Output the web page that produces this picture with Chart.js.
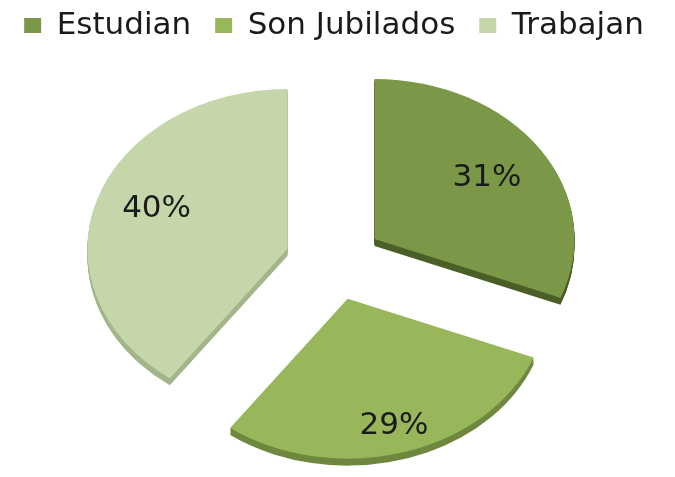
<!DOCTYPE html>
<html>
<head>
<meta charset="utf-8">
<script src="https://cdn.jsdelivr.net/npm/chart.js@4"></script>
<style>
  html, body { margin: 0; padding: 0; background: #fff; }
</style>
</head>
<body>
<canvas id="myChart" width="675" height="477"></canvas>
<script>
// data
const labels = ['Estudian', 'Son Jubilados', 'Trabajan'];
const values = [31, 29, 40];

const faceColors = ['#7a9848', '#98b75b', '#c4d6aa'];
const sideColors = ['#4b5f28', '#6e883f', '#a3b58a'];

// look of the fake 3d pie
const tilt = 0.8;      // vertical squash of the disc
const depth = 7;       // thickness of the slices
const explode = 49;    // how far each slice is pulled out
// where the % text sits: [part of the slice angle, part of the radius]
const labelSpots = [[0.5, 0.68], [0.5, 0.83], [0.52, 0.70]];

function wedge(ctx, arc) {
  ctx.beginPath();
  ctx.moveTo(arc.x, arc.y);
  ctx.arc(arc.x, arc.y, arc.outerRadius, arc.startAngle, arc.endAngle);
  ctx.closePath();
  ctx.fill();
}

const pie3d = {
  id: 'pie3d',
  beforeDatasetsDraw(chart) {
    const ctx = chart.ctx;
    const arcs = chart.getDatasetMeta(0).data;
    if (!arcs.length) return false;
    const cx = arcs[0].x, cy = arcs[0].y;
    arcs.forEach(function (arc, i) {
      const mid = (arc.startAngle + arc.endAngle) / 2;
      ctx.save();
      ctx.translate(cx, cy);
      ctx.scale(1, tilt);
      ctx.translate(-cx, -cy);
      ctx.translate(Math.cos(mid) * explode, Math.sin(mid) * explode);
      // side
      ctx.fillStyle = sideColors[i];
      for (let k = depth; k > 0; k--) {
        ctx.save();
        ctx.translate(0, k / tilt);
        wedge(ctx, arc);
        ctx.restore();
      }
      // top face
      arc.draw(ctx);
      ctx.restore();
    });
    return false;
  },
  afterDraw(chart) {
    const ctx = chart.ctx;
    const arcs = chart.getDatasetMeta(0).data;
    const total = values.reduce((a, b) => a + b, 0);
    ctx.save();
    ctx.font = '31px "DejaVu Sans"';
    ctx.fillStyle = '#1a1a1a';
    ctx.textAlign = 'center';
    ctx.textBaseline = 'middle';
    arcs.forEach(function (arc, i) {
      const mid = (arc.startAngle + arc.endAngle) / 2;
      const ang = arc.startAngle + labelSpots[i][0] * (arc.endAngle - arc.startAngle);
      const rr = arc.outerRadius * labelSpots[i][1];
      const x = arc.x + Math.cos(mid) * explode + Math.cos(ang) * rr;
      const y0 = Math.sin(mid) * explode + Math.sin(ang) * rr;
      const y = arc.y + y0 * tilt;
      ctx.fillText(Math.round(values[i] / total * 100) + '%', x, y);
    });
    ctx.restore();
  }
};

const ctx = document.getElementById('myChart');
const chart = new Chart(ctx, {
  type: 'pie',
  data: {
    labels: labels,
    datasets: [{
      data: values,
      backgroundColor: faceColors,
      borderWidth: 0,
      radius: 200
    }]
  },
  options: {
    responsive: false,
    animation: false,
    layout: { padding: { top: -14, bottom: 6, left: 0, right: 7 } },
    plugins: {
      tooltip: { enabled: false },
      legend: {
        position: 'top',
        labels: {
          boxWidth: 17,
          boxHeight: 15,
          padding: 24,
          color: '#1a1a1a',
          font: { family: 'DejaVu Sans', size: 31 }
        }
      }
    }
  },
  plugins: [pie3d]
});
</script>
</body>
</html>
